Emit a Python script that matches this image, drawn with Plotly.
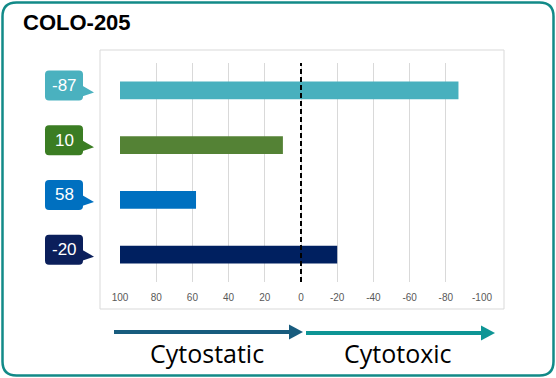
import plotly.graph_objects as go

# ---- data ----
values = [-87, 10, 58, -20]
bar_colors = ["#48B0BE", "#548235", "#0070C0", "#002060"]
label_colors = ["#4AB1BF", "#3B7D23", "#0070C0", "#0B1F5B"]
tick_vals = [100, 80, 60, 40, 20, 0, -20, -40, -60, -80, -100]
tick_text = ["100", "80", "60", "40", "20", "0", "-20", "-40", "-60", "-80", "-100"]
base_value = 100
title_text = "COLO-205"
left_label = "Cytostatic"
right_label = "Cytotoxic"

positions = list(range(len(values)))

W, H = 556, 378
L, R, T, B = 120, 74, 63, 96
PW = W - L - R
PH = H - T - B

fig = go.Figure()
fig.add_trace(go.Bar(
    y=positions,
    x=[v - base_value for v in values],
    base=base_value,
    orientation="h",
    marker=dict(color=bar_colors, line=dict(width=0)),
    width=0.32,
    hoverinfo="skip",
))

shapes = []

def rounded_path(x0, y0, x1, y1, r):
    return (f"M{x0+r},{y0} L{x1-r},{y0} Q{x1},{y0} {x1},{y0+r} "
            f"L{x1},{y1-r} Q{x1},{y1} {x1-r},{y1} L{x0+r},{y1} "
            f"Q{x0},{y1} {x0},{y1-r} L{x0},{y0+r} Q{x0},{y0} {x0+r},{y0} Z")

# outer rounded border
shapes.append(dict(type="path", xref="paper", yref="paper", xsizemode="pixel", ysizemode="pixel",
                   xanchor=0, yanchor=0,
                   path=rounded_path(2.5 - L, -(H - 2.5 - (T + PH)), W - 2.5 - L, (T + PH) - 2.5, 14),
                   line=dict(color="#128A88", width=2.5), fillcolor="rgba(0,0,0,0)", layer="below"))

# inner light frame
shapes.append(dict(type="rect", xref="paper", yref="paper", xsizemode="pixel", ysizemode="pixel",
                   xanchor=0, yanchor=0, x0=100 - L, x1=504 - L, y0=(T + PH) - 309, y1=(T + PH) - 50,
                   line=dict(color="#D9D9D9", width=1), fillcolor="rgba(0,0,0,0)", layer="below"))

# dashed zero line
shapes.append(dict(type="line", xref="x", yref="paper", x0=0, x1=0, y0=0, y1=1,
                   line=dict(color="black", width=2, dash="5px,3px"), layer="above"))

# callouts
annotations = []
for i, v in enumerate(values):
    box = rounded_path(-75, -10, -37, 20, 4)
    tail = "M-38,5 L-26,-2 L-38,-6 Z"
    shapes.append(dict(type="path", xref="paper", yref="y", xsizemode="pixel", ysizemode="pixel",
                       xanchor=0, yanchor=positions[i], path=box,
                       fillcolor=label_colors[i], line=dict(width=0)))
    shapes.append(dict(type="path", xref="paper", yref="y", xsizemode="pixel", ysizemode="pixel",
                       xanchor=0, yanchor=positions[i], path=tail,
                       fillcolor=label_colors[i], line=dict(width=0)))
    annotations.append(dict(xref="paper", yref="y", x=(64 - L) / PW, y=positions[i], yshift=5,
                            xanchor="center", yanchor="middle",
                            text=str(v), showarrow=False,
                            font=dict(family="Liberation Sans, Arial", size=17, color="white")))

# bottom arrows
def arrow(x_start, x_end, y_px, color):
    yy = (T + PH) - y_px
    shapes.append(dict(type="line", xref="paper", yref="paper", xsizemode="pixel", ysizemode="pixel",
                       xanchor=0, yanchor=0, x0=x_start - L, x1=x_end - 12 - L, y0=yy, y1=yy,
                       line=dict(color=color, width=4)))
    shapes.append(dict(type="path", xref="paper", yref="paper", xsizemode="pixel", ysizemode="pixel",
                       xanchor=0, yanchor=0,
                       path=f"M{x_end-14-L},{yy+7.5} L{x_end-L},{yy} L{x_end-14-L},{yy-7.5} Z",
                       fillcolor=color, line=dict(width=0)))

arrow(114, 303, 332, "#185C7E")
arrow(306, 495, 333, "#0E9595")

annotations.append(dict(xref="paper", yref="paper", x=(207 - L) / PW, y=((T + PH) - 353) / PH,
                        xanchor="center", yanchor="middle",
                        text=left_label, showarrow=False,
                        font=dict(family="Open Sans, Noto Sans", size=25, color="black")))
annotations.append(dict(xref="paper", yref="paper", x=(398 - L) / PW, y=((T + PH) - 353) / PH,
                        xanchor="center", yanchor="middle",
                        text=right_label, showarrow=False,
                        font=dict(family="Open Sans, Noto Sans", size=25, color="black")))

# title
annotations.append(dict(xref="paper", yref="paper", x=(21 - L) / PW, y=((T + PH) - 22) / PH,
                        xanchor="left", yanchor="middle", text=f"<b>{title_text}</b>", showarrow=False,
                        font=dict(family="Liberation Sans, Arial", size=22, color="black")))

fig.update_layout(
    width=W, height=H,
    margin=dict(l=L, r=R, t=T, b=B),
    paper_bgcolor="white", plot_bgcolor="white",
    showlegend=False,
    shapes=shapes,
    annotations=annotations,
    xaxis=dict(range=[100, -100], tickvals=tick_vals, ticktext=tick_text,
               showgrid=True, gridcolor="#D9D9D9", gridwidth=1, zeroline=False,
               showline=False, ticks="", ticklabelstandoff=8,
               tickfont=dict(family="Liberation Sans, Arial", size=10, color="#595959")),
    yaxis=dict(range=[3.5, -0.5], showgrid=False, zeroline=False, showticklabels=False,
               showline=False, ticks=""),
)

fig.write_html("out.html", config={"displayModeBar": False},
               post_script="document.body.style.margin='0';")
